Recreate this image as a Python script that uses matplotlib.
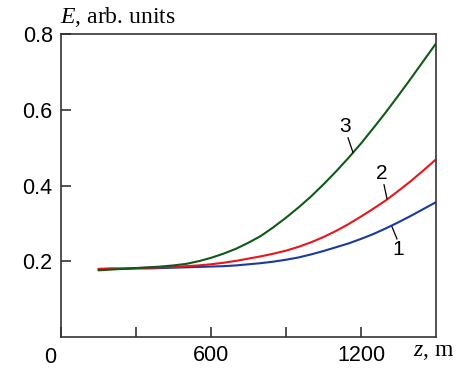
import matplotlib
matplotlib.use("Agg")
import matplotlib.pyplot as plt

z = [150, 200, 250, 300, 350, 400, 450, 500, 550, 600, 650, 700, 750, 800, 850, 900,
     950, 1000, 1050, 1100, 1150, 1200, 1250, 1300, 1350, 1400, 1450, 1500]
E1 = [0.179, 0.180, 0.180, 0.181, 0.181, 0.182, 0.183, 0.184, 0.185, 0.186, 0.187, 0.189, 0.192, 0.195,
      0.199, 0.204, 0.210, 0.218, 0.227, 0.237, 0.247, 0.259, 0.272, 0.287, 0.303, 0.320, 0.338, 0.356]
E2 = [0.180, 0.181, 0.181, 0.182, 0.183, 0.184, 0.185, 0.187, 0.189, 0.192, 0.196, 0.201, 0.207, 0.213,
      0.220, 0.228, 0.238, 0.250, 0.264, 0.280, 0.298, 0.318, 0.339, 0.361, 0.386, 0.412, 0.440, 0.469]
E3 = [0.176, 0.178, 0.180, 0.182, 0.184, 0.186, 0.189, 0.193, 0.200, 0.209, 0.220, 0.233, 0.249, 0.267,
      0.290, 0.315, 0.342, 0.371, 0.403, 0.437, 0.473, 0.511, 0.552, 0.594, 0.638, 0.683, 0.729, 0.775]

curve_labels = ["1", "2", "3"]
label_text_pos = [(1348, 0.230), (1284, 0.431), (1136, 0.556)]
leader_lines = [((1324, 0.291), (1344, 0.259)), ((1292, 0.402), (1304, 0.365)), ((1148, 0.526), (1168, 0.487))]

xticks = [0, 300, 600, 900, 1200]
xticklabels = ["", "", "600", "", "1200"]
yticks = [0.2, 0.4, 0.6, 0.8]
yticklabels = ["0.2", "0.4", "0.6", "0.8"]

plt.rcParams['font.family'] = ['Liberation Sans', 'DejaVu Sans']
plt.rcParams['mathtext.fontset'] = 'custom'
plt.rcParams['mathtext.rm'] = 'Liberation Serif'
plt.rcParams['mathtext.it'] = 'Liberation Serif:italic'

fig = plt.figure(figsize=(4.6, 3.7), dpi=100)
ax = fig.add_axes([61/460, 33/370, 375/460, 303/370])

colors = ['#1a3a9e', '#e8161c', '#0e5a16']
for E, c in zip([E1, E2, E3], colors):
    ax.plot(z, E, color=c, lw=1.5, solid_capstyle='round', solid_joinstyle='round')

for lab, (tx, ty), ((x0, y0), (x1, y1)) in zip(curve_labels, label_text_pos, leader_lines):
    ax.text(tx, ty, lab, fontsize=15, ha='center', va='center', color='black')
    ax.plot([x0, x1], [y0, y1], color='black', lw=0.9)

ax.set_xlim(0, 1500)
ax.set_ylim(0, 0.8)
ax.set_xticks(xticks)
ax.set_xticklabels(xticklabels)
ax.set_yticks(yticks)
ax.set_yticklabels(yticklabels)
ax.tick_params(direction='in', length=7, width=1.2, color='#333333', labelsize=15.5, pad=6)
ax.tick_params(axis='x', pad=6)
for s in ax.spines.values():
    s.set_linewidth(1.2)
    s.set_color('#333333')

ax.annotate("0", xy=(0, 0), xycoords=('data', 'axes fraction'), xytext=(-8, -7),
            textcoords='offset points', ha='center', va='top', fontsize=15.5)

fig.text(60/460, 1 - 17/370, r"$E$, arb. units", fontsize=17, ha='left', va='center',
         family=['Liberation Serif'])
fig.text(413/460, 1 - 352/370, r"$z$, m", fontsize=17, ha='left', va='center',
         family=['Liberation Serif'])

fig.savefig("out.png", dpi=100, facecolor='white')
